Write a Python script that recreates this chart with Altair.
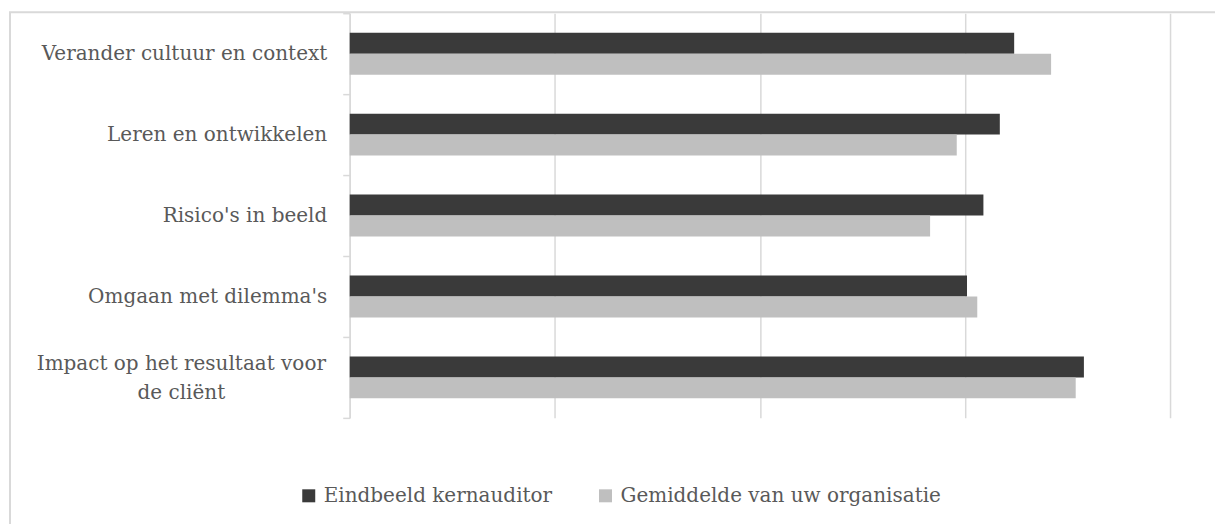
import altair as alt
import pandas as pd

categories = [
    "Verander cultuur en context",
    "Leren en ontwikkelen",
    "Risico's in beeld",
    "Omgaan met dilemma's",
    "Impact op het resultaat voor de cliënt",
]
series = ["Eindbeeld kernauditor", "Gemiddelde van uw organisatie"]
eindbeeld = [3.24, 3.17, 3.09, 3.01, 3.58]
gemiddelde = [3.42, 2.96, 2.83, 3.06, 3.54]
colors = ["#3a3a3a", "#bfbfbf"]
grid_values = [0, 1, 2, 3, 4]

rows = []
for c, a, b in zip(categories, eindbeeld, gemiddelde):
    rows.append({"categorie": c, "reeks": series[0], "score": a})
    rows.append({"categorie": c, "reeks": series[1], "score": b})
df = pd.DataFrame(rows)

long_label = "Impact op het resultaat voor de cliënt"
is_long = "datum.value == '" + long_label + "'"
label_expr = (
    is_long + " ? ['Impact op het resultaat voor', 'de cliënt'] : datum.value"
)

FONT = "DejaVu Serif"
GRID = "#d9d9d9"
TEXT = "#595959"

bars = alt.Chart(df).mark_bar().encode(
    y=alt.Y(
        "categorie:N",
        sort=categories,
        scale=alt.Scale(paddingInner=0, paddingOuter=0),
        axis=alt.Axis(
            title=None,
            labelExpr=label_expr,
            tickBand="extent",
            ticks=True,
            tickSize=7,
            tickColor=GRID,
            tickWidth=1.5,
            domainColor=GRID,
            domainWidth=1.5,
            labelFont=FONT,
            labelFontSize=20,
            labelColor=TEXT,
            labelAlign={"condition": {"test": is_long, "value": "center"}, "value": "right"},
            labelPadding={"condition": {"test": is_long, "value": 162}, "value": 16},
            labelOffset={"condition": {"test": is_long, "value": -14}, "value": 0},
            labelLimit=500,
            labelLineHeight=29,
            grid=False,
        ),
    ),
    yOffset=alt.YOffset(
        "reeks:N", sort=series, scale=alt.Scale(paddingInner=0, paddingOuter=0.93)
    ),
    x=alt.X(
        "score:Q",
        scale=alt.Scale(domain=[0, 4]),
        axis=alt.Axis(
            title=None,
            labels=False,
            ticks=False,
            domain=False,
            grid=True,
            values=grid_values,
            gridColor=GRID,
            gridWidth=1.5,
        ),
    ),
    color=alt.Color(
        "reeks:N",
        sort=series,
        scale=alt.Scale(domain=series, range=colors),
        legend=alt.Legend(
            title=None,
            orient="none",
            legendX=-51,
            legendY=473,
            direction="horizontal",
            symbolType="square",
            symbolSize=169,
            symbolStrokeWidth=0,
            labelFont=FONT,
            labelFontSize=20,
            labelColor=TEXT,
            labelOffset=5,
            labelLimit=600,
            columnPadding=43,
        ),
    ),
)

border = alt.Chart(pd.DataFrame({"a": [0]})).mark_rect(
    fill=None, stroke=GRID, strokeWidth=2, clip=False
).encode(
    x=alt.value(-340),
    x2=alt.value(900),
    y=alt.value(-1),
    y2=alt.value(600),
)

chart = alt.layer(border, bars).properties(
    width=821,
    height=405,
    autosize=alt.AutoSizeParams(type="none"),
    padding={"left": 350, "top": 13, "right": 45, "bottom": 106},
).configure_view(stroke=None)

chart.save("out.html", embed_options={"renderer": "svg", "actions": False})
